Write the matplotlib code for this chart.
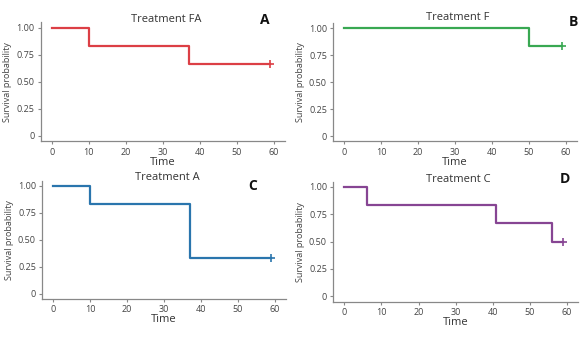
import matplotlib
matplotlib.use('Agg')
import matplotlib.pyplot as plt

plt.rcParams['font.family'] = ['Open Sans', 'DejaVu Sans']

# survival curves (time of step, survival after step)
fa_time = [0, 10, 37, 59]
fa_surv = [1.0, 0.833, 0.667, 0.667]
f_time = [0, 50, 59]
f_surv = [1.0, 0.833, 0.833]
a_time = [0, 10, 37, 59]
a_surv = [1.0, 0.833, 0.333, 0.333]
c_time = [0, 6, 41, 56, 59]
c_surv = [1.0, 0.833, 0.667, 0.5, 0.5]

titles = ['Treatment FA', 'Treatment F', 'Treatment A', 'Treatment C']
letters = ['A', 'B', 'C', 'D']
colors = ['#dc3f45', '#38a852', '#2a75ad', '#874593']
xticks = [0, 10, 20, 30, 40, 50, 60]
yticks = [0, 0.25, 0.5, 0.75, 1.0]
ytick_labels = ['0', '0.25', '0.50', '0.75', '1.00']

W, H = 584, 342
# pixel boxes: left, right, top, bottom
boxes = [(40.6, 285.0, 22.3, 141.4),
         (333.2, 577.1, 22.9, 141.4),
         (42.2, 286.0, 180.6, 299.1),
         (333.2, 578.0, 181.5, 301.8)]
letter_pos = [(265, 20), (573, 22), (253, 186), (565, 179)]
title_y = [19, 18, 178, 180]

fig = plt.figure(figsize=(W / 100, H / 100), dpi=100)

data = [(fa_time, fa_surv), (f_time, f_surv), (a_time, a_surv), (c_time, c_surv)]
for i, (t, s) in enumerate(data):
    l, r, top, b = boxes[i]
    ax = fig.add_axes([l / W, 1 - b / H, (r - l) / W, (b - top) / H])
    ax.step(t, s, where='post', color=colors[i], lw=1.6)
    ax.plot(t[-1], s[-1], marker='+', color=colors[i], ms=6, mew=1.2)
    ax.set_xlim(-3, 63)
    ax.set_ylim(-0.05, 1.05)
    ax.set_xticks(xticks)
    ax.set_yticks(yticks)
    ax.set_yticklabels(ytick_labels)
    ax.tick_params(labelsize=6.5, colors='#444444', length=2.5, width=0.8, pad=2)
    ax.tick_params(color='#888888')
    for sp in ['top', 'right']:
        ax.spines[sp].set_visible(False)
    for sp in ['left', 'bottom']:
        ax.spines[sp].set_color('#888888')
        ax.spines[sp].set_linewidth(0.9)
    ax.set_xlabel('Time', fontsize=8, color='#333333', labelpad=0)
    ax.set_ylabel('Survival probability', fontsize=6.5, color='#444444', labelpad=3)
    cx = (l + r) / 2
    fig.text(cx / W + 0.005, 1 - title_y[i] / H, titles[i], ha='center', va='center',
             fontsize=8, color='#333333')
    lx, ly = letter_pos[i]
    fig.text(lx / W, 1 - ly / H, letters[i], ha='center', va='center',
             fontsize=10, fontweight='bold', color='#111111')

fig.savefig('out.png', dpi=100)
